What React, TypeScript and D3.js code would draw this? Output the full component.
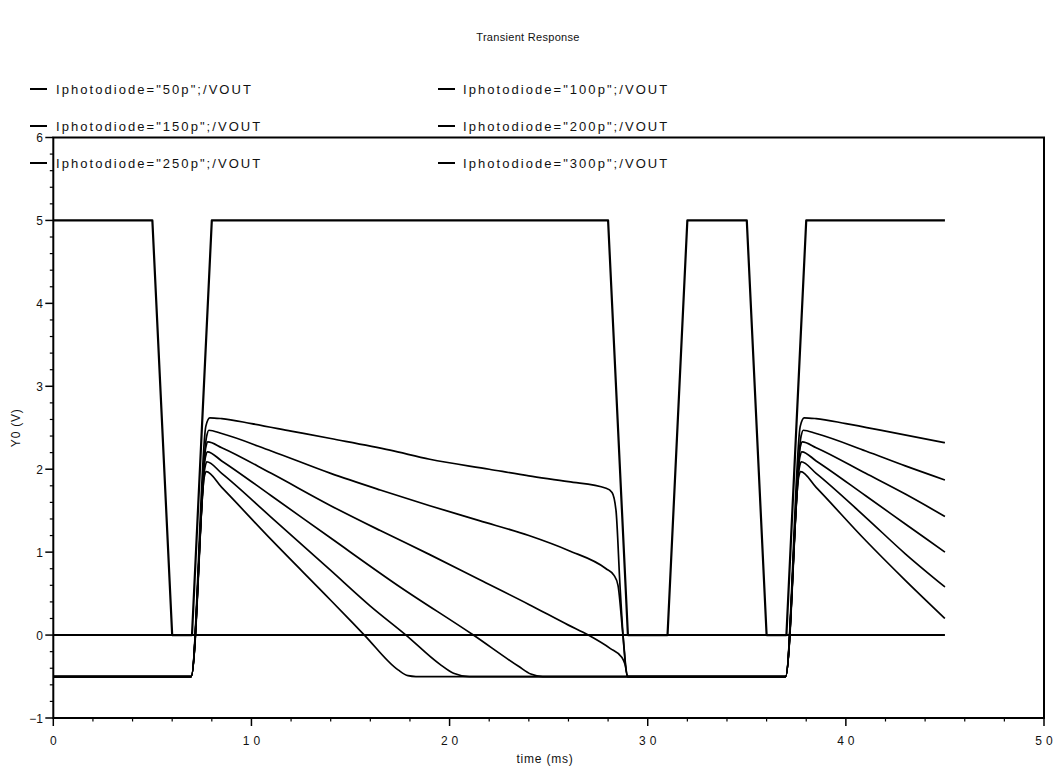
import React from "react";
import * as d3 from "d3";

const title = "Transient Response";
const xLabel = "time (ms)";
const yLabel = "Y0 (V)";
const xTicks = [0, 10, 20, 30, 40, 50];
const yTicks = [-1, 0, 1, 2, 3, 4, 5, 6];
const xMinorStep = 2;
const yMinorStep = 0.2;

const legendNames = [
  'Iphotodiode="50p";/VOUT',
  'Iphotodiode="100p";/VOUT',
  'Iphotodiode="150p";/VOUT',
  'Iphotodiode="200p";/VOUT',
  'Iphotodiode="250p";/VOUT',
  'Iphotodiode="300p";/VOUT',
];

// control pulse and ground reference traces
const pulse: [number, number][] = [
  [0, 5], [5, 5], [6, 0], [7, 0], [8, 5], [28, 5], [29, 0], [31, 0], [32, 5],
  [35, 5], [36, 0], [37, 0], [38, 5], [45, 5],
];
const ground: [number, number][] = [[0, 0], [45, 0]];

// VOUT curves (time ms, volts)
const vout50p: [number, number][] = [
  [0, -0.5], [6.96, -0.5], [7.7, 2.52], [7.9, 2.62], [8.5, 2.61], [10, 2.55], [12, 2.46],
  [14, 2.37], [17, 2.23], [19, 2.12], [22, 2.0], [24, 1.92], [26, 1.85], [27.9, 1.77],
  [28.2, 1.72], [28.4, 1.5], [28.6, 0.6], [28.8, -0.15], [28.97, -0.5], [36.96, -0.5],
  [37.7, 2.52], [37.9, 2.62], [38.5, 2.61], [40, 2.55], [42, 2.46], [45, 2.32],
];
const vout100p: [number, number][] = [
  [0, -0.5], [6.96, -0.5], [7.74, 2.4], [7.85, 2.47], [8.5, 2.43], [11, 2.22], [14, 1.95],
  [16.5, 1.75], [19, 1.56], [21.5, 1.38], [24, 1.2], [26, 1.02], [27.9, 0.8], [28.3, 0.72],
  [28.5, 0.6], [28.75, 0], [28.98, -0.5], [36.96, -0.5], [37.74, 2.4], [37.85, 2.47],
  [38.5, 2.43], [41, 2.22], [43, 2.04], [45, 1.87],
];
const vout150p: [number, number][] = [
  [0, -0.5], [6.96, -0.5], [7.7, 2.27], [7.8, 2.33], [8.5, 2.26], [11, 1.95], [14, 1.56],
  [16.5, 1.26], [19, 0.97], [21.5, 0.67], [24, 0.37], [26, 0.12], [27, 0.0], [28.1, -0.16],
  [28.7, -0.27], [28.85, -0.35], [29, -0.5], [36.96, -0.5], [37.7, 2.27], [37.8, 2.33],
  [38.5, 2.26], [41, 1.95], [43, 1.7], [45, 1.43],
];
const vout200p: [number, number][] = [
  [0, -0.5], [6.96, -0.5], [7.68, 2.15], [7.78, 2.21], [8.5, 2.1], [11, 1.68], [14, 1.17],
  [17.5, 0.58], [21.2, 0], [23.5, -0.38], [24.1, -0.47], [24.7, -0.5], [36.96, -0.5],
  [37.68, 2.15], [37.78, 2.21], [38.5, 2.1], [41, 1.68], [43, 1.34], [45, 1.0],
];
const vout250p: [number, number][] = [
  [0, -0.5], [6.96, -0.5], [7.66, 2.03], [7.75, 2.09], [8.5, 1.95], [11, 1.42], [14, 0.78],
  [16, 0.35], [17.8, 0], [19.5, -0.35], [20.2, -0.46], [21, -0.5], [36.96, -0.5],
  [37.66, 2.03], [37.75, 2.09], [38.5, 1.95], [41, 1.42], [43, 0.98], [45, 0.58],
];
const vout300p: [number, number][] = [
  [0, -0.5], [6.96, -0.5], [7.63, 1.92], [7.72, 1.97], [8.5, 1.78], [11, 1.15], [14, 0.42],
  [15.7, 0], [17.4, -0.42], [17.9, -0.49], [18.3, -0.5], [36.96, -0.5], [37.63, 1.92],
  [37.72, 1.97], [38.5, 1.78], [41, 1.14], [43, 0.66], [45, 0.2],
];
const voutSeries = [vout50p, vout100p, vout150p, vout200p, vout250p, vout300p];

const W = 1057;
const H = 768;
const FONT = "'Liberation Sans', Arial, Helvetica, sans-serif";

export default function App() {
  const x = d3.scaleLinear().domain([0, 50]).range([53.3, 1044]);
  const y = d3.scaleLinear().domain([-1, 6]).range([718, 137.5]);
  const line = d3
    .line<[number, number]>()
    .x((d) => x(d[0]))
    .y((d) => y(d[1]));
  const smooth = d3
    .line<[number, number]>()
    .x((d) => x(d[0]))
    .y((d) => y(d[1]))
    .curve(d3.curveMonotoneX);

  const xMinor = d3.range(0, 50 + 1e-9, xMinorStep).filter((v) => !xTicks.includes(v));
  const yMinor = d3
    .range(-1, 6 + 1e-9, yMinorStep)
    .map((v) => Math.round(v * 10) / 10)
    .filter((v) => !yTicks.includes(v));

  const [x0, x1] = x.range();
  const [yb, yt] = y.range();

  const legendCols = [30, 438];
  const legendRows = [94, 131, 168];

  return (
    <svg
      width={W}
      height={H}
      style={{ position: "absolute", left: 0, top: 0, background: "#fff" }}
      fontFamily={FONT}
    >
      <rect x={0} y={0} width={W} height={H} fill="#fff" />
      <text x={528} y={41} fontSize={11} textAnchor="middle" letterSpacing={0.3} fill="#111">
        {title}
      </text>

      {/* frame */}
      <rect x={x0} y={yt} width={x1 - x0} height={yb - yt} fill="none" stroke="#000" strokeWidth={2} />

      {/* x ticks */}
      {xTicks.map((t) => (
        <g key={"xt" + t}>
          <line x1={x(t)} x2={x(t)} y1={yb} y2={yb + 8} stroke="#000" strokeWidth={1.5} />
          <text x={x(t) + 2} y={745} fontSize={12} textAnchor="middle" letterSpacing={4} fill="#111">
            {t}
          </text>
        </g>
      ))}
      {xMinor.map((t) => (
        <line key={"xm" + t} x1={x(t)} x2={x(t)} y1={yb} y2={yb + 3.5} stroke="#000" strokeWidth={1.2} />
      ))}
      {/* y ticks */}
      {yTicks.map((t) => (
        <g key={"yt" + t}>
          <line x1={x0 - 8} x2={x0} y1={y(t)} y2={y(t)} stroke="#000" strokeWidth={1.5} />
          <text x={43} y={y(t) + 4.5} fontSize={12} textAnchor="end" fill="#111">
            {t < 0 ? "\u2212" + Math.abs(t) : String(t)}
          </text>
        </g>
      ))}
      {yMinor.map((t) => (
        <line key={"ym" + t} x1={x0 - 3.5} x2={x0} y1={y(t)} y2={y(t)} stroke="#000" strokeWidth={1.2} />
      ))}

      <text x={545} y={763} fontSize={12} textAnchor="middle" letterSpacing={0.8} fill="#111">
        {xLabel}
      </text>
      <text
        transform={`translate(20, ${(yb + yt) / 2}) rotate(-90)`}
        fontSize={12}
        textAnchor="middle"
        letterSpacing={0.8}
        fill="#111"
      >
        {yLabel}
      </text>

      {/* traces */}
      <path d={line(ground) || ""} fill="none" stroke="#000" strokeWidth={2} />
      <path d={line(pulse) || ""} fill="none" stroke="#000" strokeWidth={2.2} strokeLinejoin="round" />
      {voutSeries.map((s, i) => (
        <path key={"v" + i} d={smooth(s) || ""} fill="none" stroke="#000" strokeWidth={1.7} strokeLinejoin="round" />
      ))}

      {/* legend */}
      {legendNames.map((name, i) => {
        const cx = legendCols[i % 2];
        const cy = legendRows[Math.floor(i / 2)];
        return (
          <g key={"lg" + i}>
            <line x1={cx} x2={cx + 17} y1={cy - 5} y2={cy - 5} stroke="#000" strokeWidth={2} />
            <text x={i % 2 === 0 ? 56 : cx + 25} y={cy} fontSize={13} letterSpacing={2.05} fill="#111">
              {name}
            </text>
          </g>
        );
      })}
    </svg>
  );
}
